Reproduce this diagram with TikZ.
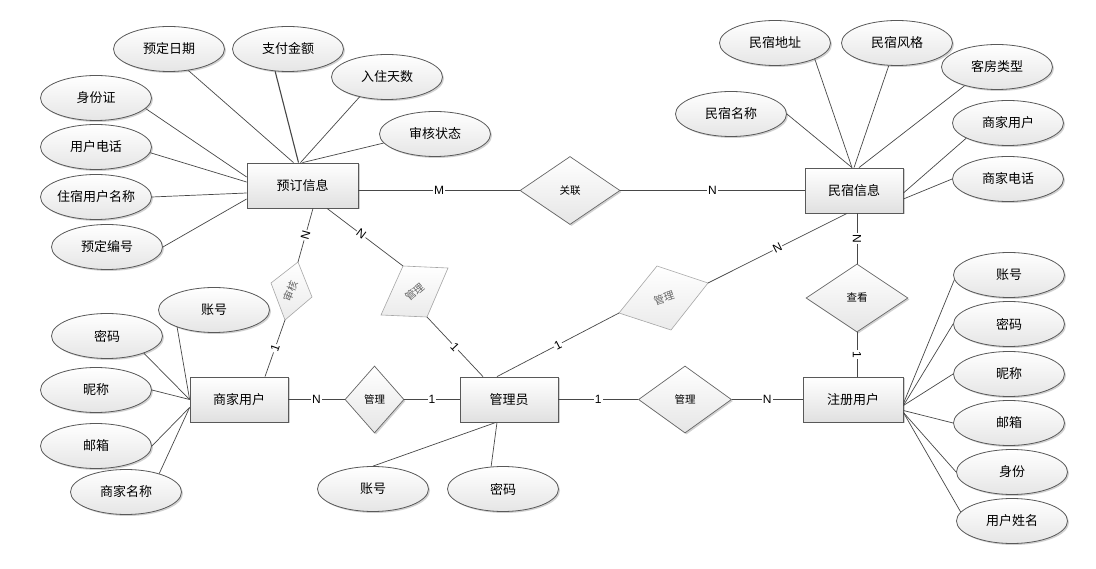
\documentclass[tikz,border=0pt]{standalone}
\usepackage{fontspec}
\setmainfont{Noto Sans CJK SC}
\newfontfamily\latinf{Liberation Sans}
\usetikzlibrary{shapes.geometric,shadows,calc}
\begin{document}
\begin{tikzpicture}[x=1pt,y=-1pt,
  ln/.style={draw=black!72, line width=0.7pt},
  shd/.style={drop shadow={shadow xshift=1.5pt, shadow yshift=-1.5pt, fill=black, opacity=0.18}},
  ent/.style={rectangle, draw=black!65, line width=0.8pt, minimum height=45pt, inner sep=0pt,
    top color=white, bottom color=black!12, font=\fontsize{13}{15}\selectfont, shd},
  attr/.style={ellipse, draw=black!65, line width=0.8pt, minimum width=111pt, minimum height=45pt, inner sep=0pt,
    top color=white, bottom color=black!10, font=\fontsize{13}{15}\selectfont, shd},
  rel/.style={diamond, draw=black!60, line width=0.7pt, inner sep=0pt,
    top color=white, bottom color=black!10, font=\fontsize{10.5}{12}\selectfont, shd},
  rrel/.style={draw=black!35, line width=0.6pt, top color=white, bottom color=black!8},
  rtxt/.style={inner sep=0pt, text=black!60, font=\fontsize{10.5}{12}\selectfont},
  card/.style={fill=white, inner sep=1pt, font=\latinf\fontsize{12}{12}\selectfont}]

\fill[white] (0,0) rectangle (1096,569);
\useasboundingbox (0,0) rectangle (1096,569);

% entities
\node[ent, minimum width=111pt] (yd) at (302.5,185.5) {预订信息};
\node[ent, minimum width=98pt] (ms) at (854,190.5) {民宿信息};
\node[ent, minimum width=98pt] (sj) at (239,399.5) {商家用户};
\node[ent, minimum width=98pt] (gly) at (509,399.5) {管理员};
\node[ent, minimum width=100pt] (zc) at (853,399.5) {注册用户};

% relationships
\node[rel, minimum width=100pt, minimum height=68pt] (gl) at (570,190.5) {关联};
\node[rel, minimum width=59pt, minimum height=67pt] (gl1) at (374.5,399.5) {管理};
\node[rel, minimum width=93pt, minimum height=67pt] (gl2) at (685,399.5) {管理};
\node[rel, minimum width=102pt, minimum height=68pt] (ck) at (857,298) {查看};

% rotated relationships
\coordinate (shT) at (298,262); \coordinate (shR) at (312,297);
\coordinate (shB) at (285,320); \coordinate (shL) at (271,283);
\path[rrel] (shT) -- (shR) -- (shB) -- (shL) -- cycle;
\node[rtxt, rotate=68] (shx) at (291,291) {审核};

\coordinate (mgTL) at (403,266); \coordinate (mgTR) at (448,268);
\coordinate (mgBR) at (427,317); \coordinate (mgBL) at (381,315);
\path[rrel] (mgTL) -- (mgTR) -- (mgBR) -- (mgBL) -- cycle;
\node[rtxt, rotate=40] (mgx) at (415,292) {管理};

\coordinate (rgT) at (657,266); \coordinate (rgR) at (708,283);
\coordinate (rgB) at (671,330); \coordinate (rgL) at (619,313);
\path[rrel] (rgT) -- (rgR) -- (rgB) -- (rgL) -- cycle;
\node[rtxt, rotate=18] (rgx) at (664,298) {管理};

% attributes of 预订信息
\node[attr] (rq) at (169,49) {预定日期};
\node[attr] (zf) at (288,49) {支付金额};
\node[attr] (rz) at (387,77) {入住天数};
\node[attr] (sh) at (435,134) {审核状态};
\node[attr] (sfz) at (96,98) {身份证};
\node[attr] (dh) at (96,147) {用户电话};
\node[attr] (mc) at (96,197) {住宿用户名称};
\node[attr] (bh) at (107,247) {预定编号};

% attributes of 民宿信息
\node[attr] (mdz) at (775,43) {民宿地址};
\node[attr] (mfg) at (897,43) {民宿风格};
\node[attr] (kf) at (997,67) {客房类型};
\node[attr] (mmc) at (731,114) {民宿名称};
\node[attr] (msj) at (1008,123) {商家用户};
\node[attr] (mdh) at (1008,179) {商家电话};

% attributes of 商家用户
\node[attr] (szh) at (214,310) {账号};
\node[attr] (smm) at (107,336) {密码};
\node[attr] (snc) at (96,390) {昵称};
\node[attr] (syx) at (96,446) {邮箱};
\node[attr] (smc) at (126,492) {商家名称};

% attributes of 管理员
\node[attr] (gzh) at (373,489) {账号};
\node[attr] (gmm) at (503,489) {密码};

% attributes of 注册用户
\node[attr] (zzh) at (1009,275) {账号};
\node[attr] (zmm) at (1009,324) {密码};
\node[attr] (znc) at (1009,374) {昵称};
\node[attr] (zyx) at (1009,423) {邮箱};
\node[attr] (zsf) at (1012,472) {身份};
\node[attr] (zxm) at (1012,521) {用户姓名};

% attribute lines
\draw[ln] (rq.-48) -- ($(yd.north)+(-9,0)$);
\draw[ln, line width=1.1pt] (zf.-120) -- ($(yd.north)+(-4,0)$);
\draw[ln] (rz.-144) -- ($(yd.north)+(-2,0)$);
\draw[ln] (sh.190) -- (yd.north);
\draw[ln] (sfz.-12) -- ($(yd.west)+(0,-8.5)$);
\draw[ln] (dh.-6) -- ($(yd.west)+(0,-3.5)$);
\draw[ln] (mc.east) -- ($(yd.west)+(0,7.5)$);
\draw[ln] (bh.east) -- ($(yd.west)+(0,13.5)$);

\draw[ln] (mmc.east) -- ($(ms.north)+(-2,0)$);
\draw[ln] (mdz.-22) -- ($(ms.north)+(-2,0)$);
\draw[ln] (mfg.-110) -- (ms.north);
\draw[ln] (kf.-150) -- ($(ms.north)+(5,0)$);
\draw[ln] (msj.200) -- ($(ms.east)+(0,2.5)$);
\draw[ln] (mdh.west) -- ($(ms.east)+(0,8.5)$);

\draw[ln] (szh.205) -- (sj.west);
\draw[ln] (smm.-25) -- (sj.west);
\draw[ln] (snc.east) -- (sj.west);
\draw[ln] (syx.east) -- ($(sj.west)+(0,8)$);
\draw[ln] (smc.29) -- ($(sj.west)+(0,8)$);

\draw[ln] (gzh.north) -- ($(gly.south)+(-13,0)$);
\draw[ln] (gmm.118) -- ($(gly.south)+(-12,0)$);

\draw[ln] (zzh.185) -- ($(zc.east)+(0,4)$);
\draw[ln] (zmm.west) -- ($(zc.east)+(0,6)$);
\draw[ln] (znc.west) -- ($(zc.east)+(0,6)$);
\draw[ln] (zyx.west) -- ($(zc.east)+(0,11)$);
\draw[ln] (zsf.west) -- ($(zc.east)+(0,13)$);
\draw[ln] (zxm.170) -- ($(zc.east)+(0,13)$);

% relationship lines
\draw[ln] ($(yd.east)+(0,5)$) -- node[card]{M} (gl.west);
\draw[ln] (gl.east) -- node[card]{N} (ms.west);
\draw[ln] ($(yd.south)+(10.5,0)$) -- node[card,sloped]{N} (shT);
\draw[ln] (shB) -- node[card,sloped]{1} ($(sj.north)+(26,0)$);
\draw[ln] ($(yd.south)+(24.5,0)$) -- node[card,sloped,pos=0.45]{N} (mgTL);
\draw[ln] (mgBR) -- node[card,sloped]{1} ($(gly.north)+(-26,0)$);
\draw[ln] ($(gly.north)+(-12,0)$) -- node[card,sloped]{1} (rgL);
\draw[ln] (rgR) -- node[card,sloped]{N} ($(ms.south)+(-7,0)$);
\draw[ln] (ck.north |- ms.south) -- node[card,sloped]{N} (ck.north);
\draw[ln] (ck.south) -- node[card,sloped]{1} (ck.south |- zc.north);
\draw[ln] (sj.east) -- node[card]{N} (gl1.west);
\draw[ln] (gl1.east) -- node[card]{1} (gly.west);
\draw[ln] (gly.east) -- node[card]{1} (gl2.west);
\draw[ln] (gl2.east) -- node[card]{N} (zc.west);
\end{tikzpicture}
\end{document}
